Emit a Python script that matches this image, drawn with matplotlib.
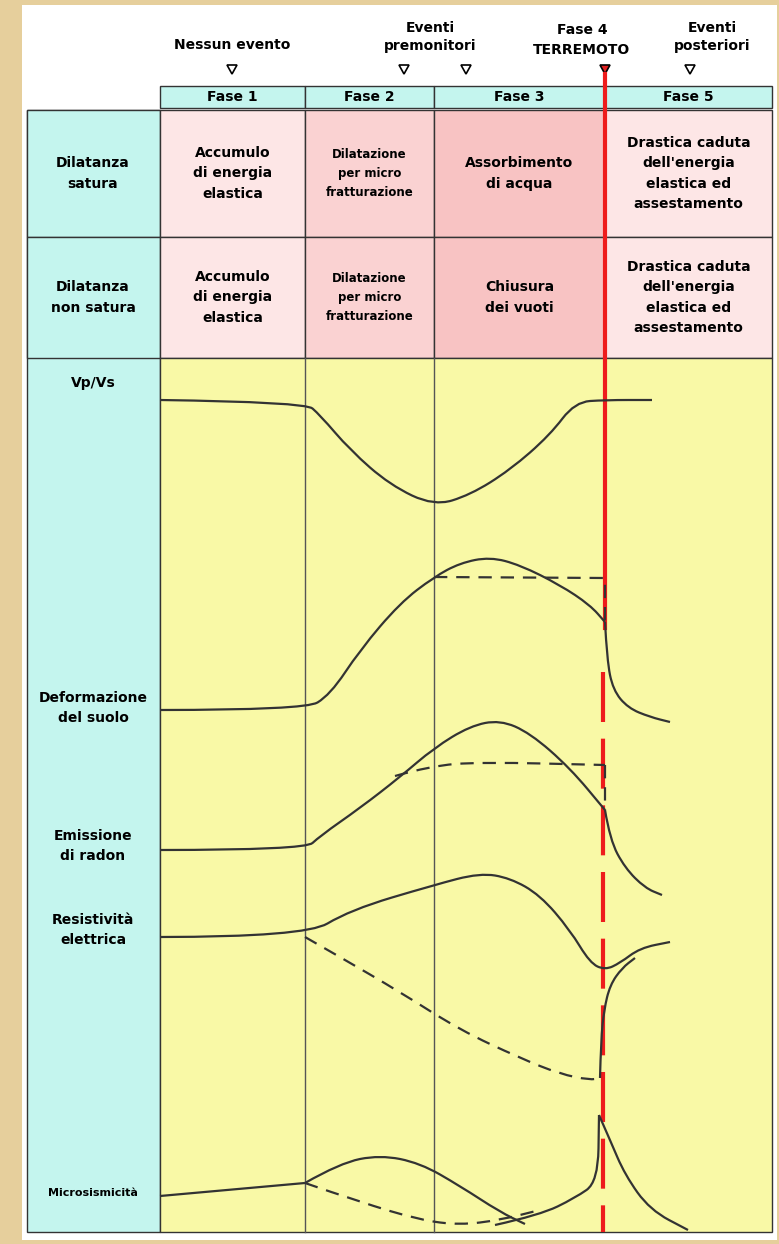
import matplotlib
matplotlib.use("Agg")
import matplotlib.pyplot as plt
from matplotlib.patches import Rectangle, Polygon, PathPatch
from matplotlib.path import Path

# ---- data ----
col_edges = [160, 305, 434, 605, 772]
phase_names = ["Fase 1", "Fase 2", "Fase 3", "Fase 5"]
row1 = ["Accumulo\ndi energia\nelastica", "Dilatazione\nper micro\nfratturazione", "Assorbimento\ndi acqua", "Drastica caduta\ndell'energia\nelastica ed\nassestamento"]
row2 = ["Accumulo\ndi energia\nelastica", "Dilatazione\nper micro\nfratturazione", "Chiusura\ndei vuoti", "Drastica caduta\ndell'energia\nelastica ed\nassestamento"]
row_labels = ["Dilatanza\nsatura", "Dilatanza\nnon satura"]
param_labels = [("Vp/Vs", 383), ("Deformazione\ndel suolo", 708), ("Emissione\ndi radon", 846), ("Resistività\nelettrica", 930), ("Microsismicità", 1193)]

vpvs = [(160,400),(305,402),(320,415),(350,450),(390,485),(434,506),(470,495),(510,470),(550,435),(575,402),(605,400),(652,400)]
def_solid = [(160,710),(305,710),(330,695),(360,650),(400,603),(434,577),(460,563),(490,557),(520,565),(560,585),(590,605),(605,622)]
def_after = [(605,622),(607,660),(613,690),(628,708),(650,717),(670,722)]
def_dash = [(434,577),(605,578),(605,622)]
rad_solid = [(160,850),(305,850),(320,836),(360,808),(400,777),(434,748),(470,726),(500,720),(530,733),(570,768),(605,810)]
rad_after = [(605,810),(610,840),(625,868),(645,888),(662,895)]
rad_dash = [(395,776),(430,766),(480,762),(605,765),(605,810)]
res_solid = [(160,937),(305,937),(350,910),(434,885),(480,873),(510,878),(540,895),(570,930),(590,963),(605,970),(620,963),(640,948),(670,942)]
res_dash = [(305,937),(340,957),(400,992),(460,1030),(520,1058),(560,1074),(590,1080),(600,1078)]
res_rise = [(600,1078),(601,1040),(604,1010),(610,985),(622,968),(635,958)]
mic_base = [(160,1196),(305,1183)]
mic_solid = [(305,1183),(340,1163),(380,1155),(420,1163),(460,1186),(500,1212),(525,1224)]
mic_dash = [(305,1183),(360,1202),(420,1220),(460,1225),(500,1220),(540,1210)]
mic_rise = [(495,1225),(540,1215),(575,1198),(598,1182),(599,1115),(610,1140),(625,1175),(650,1210),(688,1230)]

fig = plt.figure(figsize=(7.79, 12.44), dpi=100)
fig.patch.set_facecolor("#e6cf9c")
ax = fig.add_axes([0, 0, 1, 1])
ax.set_xlim(0, 779); ax.set_ylim(1244, 0); ax.axis("off")

ax.add_patch(Rectangle((22, 5), 755, 1235, fc="white", ec="none"))
cyan = "#c4f5ee"; yellow = "#f9f9a6"
pinks = ["#fde6e6", "#fad2d2", "#f8c3c3", "#fde6e6"]
for i in range(4):
    ax.add_patch(Rectangle((col_edges[i], 86), col_edges[i+1]-col_edges[i], 22, fc=cyan, ec="#333", lw=1))
    ax.text((col_edges[i]+col_edges[i+1])/2, 97, phase_names[i], ha="center", va="center", fontsize=10, fontweight="bold")
ax.add_patch(Rectangle((27, 110), 133, 1122, fc=cyan, ec="#333", lw=1))
for r, (y0, y1) in enumerate([(110, 237), (237, 358)]):
    ax.add_patch(Rectangle((27, y0), 133, y1-y0, fc=cyan, ec="#333", lw=1))
    ax.text(93, (y0+y1)/2, row_labels[r], ha="center", va="center", fontsize=10, fontweight="bold", linespacing=1.6)
    texts = row1 if r == 0 else row2
    for i in range(4):
        ax.add_patch(Rectangle((col_edges[i], y0), col_edges[i+1]-col_edges[i], y1-y0, fc=pinks[i], ec="#333", lw=1))
        ax.text((col_edges[i]+col_edges[i+1])/2, (y0+y1)/2, texts[i], ha="center", va="center",
                fontsize=10 if i != 1 else 8.5, fontweight="bold", linespacing=1.6)
ax.add_patch(Rectangle((160, 358), 612, 874, fc=yellow, ec="#333", lw=1))
for x in (305, 434):
    ax.plot([x, x], [358, 1232], color="#555", lw=1)
for lab, y in param_labels:
    ax.text(93, y, lab, ha="center", va="center", fontsize=10 if lab != "Microsismicità" else 8, fontweight="bold", linespacing=1.6)

def tri(x, y, c="white"):
    ax.add_patch(Polygon([(x-5, y-5), (x+5, y-5), (x, y+4)], closed=True, fc=c, ec="black", lw=1.2))
ax.text(232, 45, "Nessun evento", ha="center", va="center", fontsize=10, fontweight="bold")
tri(232, 70)
ax.text(430, 37, "Eventi\npremonitori", ha="center", va="center", fontsize=10, fontweight="bold", linespacing=1.4)
tri(404, 70); tri(466, 70)
ax.text(582, 40, "Fase 4\nTERREMOTO", ha="center", va="center", fontsize=10, fontweight="bold", linespacing=1.5)
tri(605, 70, "#e02020")
ax.text(712, 37, "Eventi\nposteriori", ha="center", va="center", fontsize=10, fontweight="bold", linespacing=1.4)
tri(690, 70)

ax.plot([605, 605], [74, 628], color="#ee1c1c", lw=3, zorder=5)
ax.plot([603, 603], [672, 1232], color="#ee1c1c", lw=3, dashes=(12, 4), zorder=5)

def draw(pts, dashed=False, smooth=True):
    if smooth and len(pts) > 2:
        verts = [pts[0]]; codes = [Path.MOVETO]
        for i in range(1, len(pts) - 1):
            mid = ((pts[i][0]+pts[i+1][0])/2, (pts[i][1]+pts[i+1][1])/2)
            verts += [pts[i], mid]; codes += [Path.CURVE3, Path.CURVE3]
        verts.append(pts[-1]); codes.append(Path.LINETO)
    else:
        verts = list(pts); codes = [Path.MOVETO] + [Path.LINETO]*(len(pts)-1)
    pp = PathPatch(Path(verts, codes), fc="none", ec="#333", lw=1.6, zorder=6)
    if dashed:
        pp.set_linestyle((0, (6, 4)))
    ax.add_patch(pp)

for c in [vpvs, def_solid, def_after, rad_solid, rad_after, res_solid, res_rise, mic_solid]:
    draw(c)
draw(mic_base, smooth=False)
draw(mic_rise[:5]); draw(mic_rise[4:])
draw(def_dash, True, smooth=False); draw(rad_dash[:4], True); draw(rad_dash[3:], True, smooth=False)
draw(res_dash, True); draw(mic_dash, True)

fig.savefig("out.png", dpi=100, facecolor=fig.get_facecolor())
